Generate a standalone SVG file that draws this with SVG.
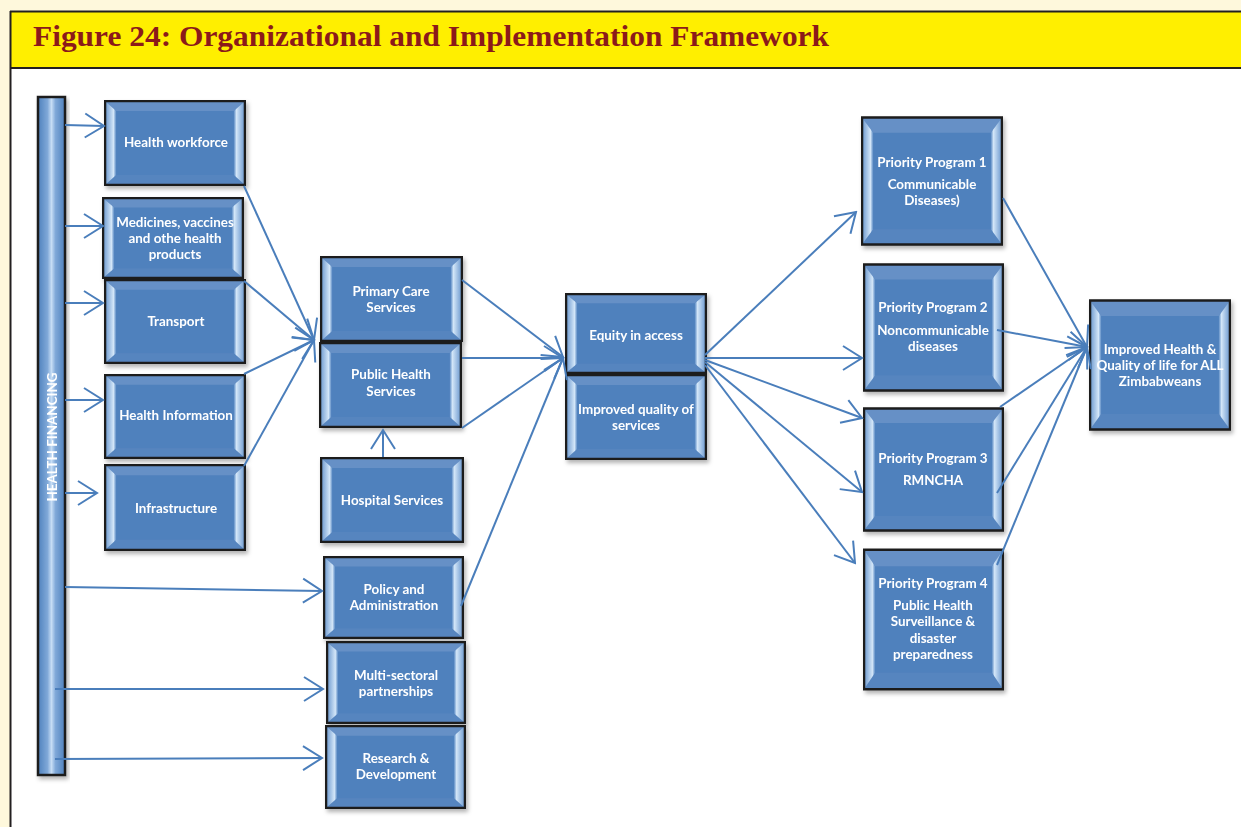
<svg xmlns="http://www.w3.org/2000/svg" xmlns:xlink="http://www.w3.org/1999/xlink" width="1241" height="827" viewBox="0 0 1241 827">
<style>
.t{font-family:Lato,"Open Sans","Liberation Sans",sans-serif;font-weight:bold;font-size:13.4px;fill:#ffffff;text-anchor:middle}
.c{fill:none;stroke:#4A7EBB;stroke-width:2;marker-end:url(#ah)}
</style>
<defs>
<linearGradient id="bevL" x1="0" y1="0" x2="1" y2="0">
<stop offset="0" stop-color="#6F9BD0"/><stop offset="0.75" stop-color="#D3E6F8"/><stop offset="1" stop-color="#5A8AC4"/>
</linearGradient>
<linearGradient id="bevR" x1="1" y1="0" x2="0" y2="0">
<stop offset="0" stop-color="#6F9BD0"/><stop offset="0.75" stop-color="#D3E6F8"/><stop offset="1" stop-color="#5A8AC4"/>
</linearGradient>
<linearGradient id="barG" x1="0" y1="0" x2="1" y2="0">
<stop offset="0" stop-color="#4F81BD"/><stop offset="0.35" stop-color="#7FA8D8"/><stop offset="0.5" stop-color="#C6DDF5"/><stop offset="0.65" stop-color="#7FA8D8"/><stop offset="1" stop-color="#4F81BD"/>
</linearGradient>
<filter id="sh" x="-10%" y="-10%" width="125%" height="125%">
<feDropShadow dx="2" dy="3" stdDeviation="2" flood-color="#000" flood-opacity="0.3"/>
</filter>
<symbol id="box" viewBox="0 0 140 86" preserveAspectRatio="none">
<rect x="1" y="1" width="138" height="84" fill="#4F81BD"/>
<polygon points="1.5,1.5 138.5,1.5 128,11 12,11" fill="#6690C6"/>
<polygon points="1.5,84.5 12,75 128,75 138.5,84.5" fill="#5785BF"/>
<polygon points="1.5,1.5 12,11 12,75 1.5,84.5" fill="url(#bevL)"/>
<polygon points="138.5,1.5 128,11 128,75 138.5,84.5" fill="url(#bevR)"/>
<rect x="1" y="1" width="138" height="84" fill="none" stroke="#1E1E1E" stroke-width="2.5" vector-effect="non-scaling-stroke"/>
</symbol>
<marker id="ah" markerUnits="userSpaceOnUse" viewBox="-22 -15 24 30" refX="0" refY="0" markerWidth="24" markerHeight="30" orient="auto">
<path d="M-19,-12 L0,0 L-19,12" fill="none" stroke="#4A7EBB" stroke-width="2"/>
</marker>
</defs>

<rect x="0" y="0" width="1241" height="827" fill="#FEF8DC"/>
<rect x="10" y="11" width="1231" height="816" fill="#ffffff"/>
<rect x="10" y="11" width="1235" height="57" fill="#FFEF00"/>
<line x1="10" y1="11.5" x2="1241" y2="11.5" stroke="#231F20" stroke-width="2"/>
<line x1="10" y1="68" x2="1241" y2="68" stroke="#231F20" stroke-width="2"/>
<line x1="10.5" y1="11" x2="10.5" y2="827" stroke="#231F20" stroke-width="2"/>
<text x="33" y="46" font-family="'Liberation Serif',serif" font-weight="bold" font-size="29" fill="#8B1A1A" textLength="796" lengthAdjust="spacingAndGlyphs">Figure 24: Organizational and Implementation Framework</text>

<g id="health-financing" filter="url(#sh)">
<rect x="38" y="97" width="27" height="678" fill="url(#barG)" stroke="#1E1E1E" stroke-width="2.5"/>
<text class="t" transform="translate(56.5,437) rotate(-90)" font-size="12.5">HEALTH FINANCING</text>
</g>

<g id="health-workforce" filter="url(#sh)"><use href="#box" x="104" y="100" width="142" height="86"/><text class="t" x="176" y="147">Health workforce</text></g>
<g id="medicines" filter="url(#sh)"><use href="#box" x="102" y="197" width="142" height="82"/><text class="t" x="175" y="227">Medicines, vaccines</text><text class="t" x="175" y="243">and othe health</text><text class="t" x="175" y="259">products</text></g>
<g id="transport" filter="url(#sh)"><use href="#box" x="104" y="279" width="142" height="85"/><text class="t" x="176" y="326">Transport</text></g>
<g id="health-information" filter="url(#sh)"><use href="#box" x="104" y="374" width="142" height="85"/><text class="t" x="176" y="420">Health Information</text></g>
<g id="infrastructure" filter="url(#sh)"><use href="#box" x="104" y="464" width="142" height="87"/><text class="t" x="176" y="513">Infrastructure</text></g>

<g id="primary-care" filter="url(#sh)"><use href="#box" x="320" y="256" width="143" height="86"/><text class="t" x="391" y="296">Primary Care</text><text class="t" x="391" y="312">Services</text></g>
<g id="public-health" filter="url(#sh)"><use href="#box" x="319" y="342" width="143" height="86"/><text class="t" x="391" y="379">Public Health</text><text class="t" x="391" y="396">Services</text></g>
<g id="hospital" filter="url(#sh)"><use href="#box" x="320" y="457" width="144" height="86"/><text class="t" x="392" y="505">Hospital Services</text></g>
<g id="policy" filter="url(#sh)"><use href="#box" x="323" y="556" width="141" height="83"/><text class="t" x="394" y="594">Policy and</text><text class="t" x="394" y="610">Administration</text></g>
<g id="multi-sectoral" filter="url(#sh)"><use href="#box" x="326" y="641" width="140" height="83"/><text class="t" x="396" y="680">Multi-sectoral</text><text class="t" x="396" y="696">partnerships</text></g>
<g id="research" filter="url(#sh)"><use href="#box" x="325" y="725" width="141" height="84"/><text class="t" x="396" y="763">Research &amp;</text><text class="t" x="396" y="779">Development</text></g>

<g id="equity" filter="url(#sh)"><use href="#box" x="565" y="293" width="142" height="81"/><text class="t" x="636" y="340">Equity in access</text></g>
<g id="quality" filter="url(#sh)"><use href="#box" x="565" y="374" width="142" height="86"/><text class="t" x="636" y="414">Improved quality of</text><text class="t" x="636" y="430">services</text></g>

<g id="pp1" filter="url(#sh)"><use href="#box" x="861" y="116" width="142" height="130"/><text class="t" x="932" y="167">Priority Program 1</text><text class="t" x="932" y="189">Communicable</text><text class="t" x="932" y="205">Diseases)</text></g>
<g id="pp2" filter="url(#sh)"><use href="#box" x="863" y="263" width="141" height="129"/><text class="t" x="933" y="312">Priority Program 2</text><text class="t" x="933" y="335">Noncommunicable</text><text class="t" x="933" y="351">diseases</text></g>
<g id="pp3" filter="url(#sh)"><use href="#box" x="863" y="407" width="141" height="125"/><text class="t" x="933" y="463">Priority Program 3</text><text class="t" x="933" y="485">RMNCHA</text></g>
<g id="pp4" filter="url(#sh)"><use href="#box" x="863" y="548" width="141" height="143"/><text class="t" x="933" y="588">Priority Program 4</text><text class="t" x="933" y="610">Public Health</text><text class="t" x="933" y="626">Surveillance &amp;</text><text class="t" x="933" y="643">disaster</text><text class="t" x="933" y="659">preparedness</text></g>
<g id="improved-health" filter="url(#sh)"><use href="#box" x="1089" y="299" width="142" height="132"/><text class="t" x="1160" y="354">Improved Health &amp;</text><text class="t" x="1160" y="370">Quality of life for ALL</text><text class="t" x="1160" y="386">Zimbabweans</text></g>

<g id="connectors">
<path class="c" d="M65,125 L104,126"/>
<path class="c" d="M65,226 L103,226"/>
<path class="c" d="M65,303 L103,303"/>
<path class="c" d="M65,400 L103,400"/>
<path class="c" d="M65,493 L97,493"/>
<path class="c" d="M65,587 L322,591"/>
<path class="c" d="M55,689 L323,689"/>
<path class="c" d="M55,759 L322,758"/>
<path class="c" d="M244,186 L314,340"/>
<path class="c" d="M244,281 L314,340"/>
<path class="c" d="M244,374 L314,340"/>
<path class="c" d="M244,466 L314,340"/>
<path class="c" d="M383,457 L383,430"/>
<path class="c" d="M462,280 L563,357"/>
<path class="c" d="M462,358 L563,358"/>
<path class="c" d="M462,428 L563,358"/>
<path class="c" d="M461,606 L563,358"/>
<path class="c" d="M705,355 L856,212"/>
<path class="c" d="M705,358 L862,358"/>
<path class="c" d="M705,360 L862,418"/>
<path class="c" d="M705,362 L862,492"/>
<path class="c" d="M705,365 L855,563"/>
<path class="c" d="M1003,198 L1087,347"/>
<path class="c" d="M997,330 L1087,347"/>
<path class="c" d="M1000,407 L1087,347"/>
<path class="c" d="M997,493 L1087,347"/>
<path class="c" d="M997,565 L1087,347"/>
</g>
</svg>
